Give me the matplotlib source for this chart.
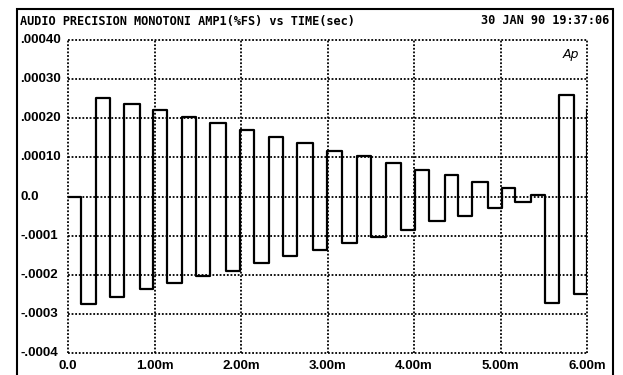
import matplotlib
matplotlib.use("Agg")
import matplotlib.pyplot as plt
from matplotlib.patches import Rectangle

# time of each level change (ms) and the level held after it (%FS)
t_edges = [0.0, 0.150, 0.324, 0.491, 0.653, 0.827, 0.983, 1.139, 1.318, 1.480,
           1.647, 1.823, 1.985, 2.150, 2.318, 2.489, 2.653, 2.832, 2.994, 3.164,
           3.341, 3.503, 3.676, 3.847, 4.012, 4.170, 4.358, 4.505, 4.676, 4.855,
           5.017, 5.168, 5.347, 5.514, 5.676, 5.850, 6.0]
levels = [0.0, -0.000276, 0.000253, -0.000258, 0.000236, -0.000237, 0.000221,
          -0.000222, 0.000204, -0.000204, 0.000188, -0.000191, 0.000170,
          -0.000171, 0.000152, -0.000153, 0.000136, -0.000138, 0.000117,
          -0.000119, 0.000104, -0.000104, 0.000085, -0.000085, 0.000068,
          -0.000063, 0.000056, -0.000051, 0.000036, -0.000030, 0.000022,
          -0.000015, 0.000003, -0.000272, 0.000259, -0.000250, 0.000220]

y_ticks = [0.0004, 0.0003, 0.0002, 0.0001, 0.0, -0.0001, -0.0002, -0.0003, -0.0004]
y_labels = [".00040", ".00030", ".00020", ".00010", "0.0", "-.0001", "-.0002", "-.0003", "-.0004"]
x_ticks = [0, 1, 2, 3, 4, 5, 6]
x_labels = ["0.0", "1.00m", "2.00m", "3.00m", "4.00m", "5.00m", "6.00m"]

title_txt = "AUDIO PRECISION MONOTONI AMP1(%FS) vs TIME(sec)"
date_txt = "30 JAN 90 19:37:06"

fig = plt.figure(figsize=(6.23, 3.75), dpi=100)
fig.patch.set_facecolor("white")
ax = fig.add_axes([68 / 623, 1 - 353 / 375, (587 - 68) / 623, (353 - 40) / 375])

dots = (0, (1, 1))
grid_kw = dict(color="black", linestyle=dots, linewidth=1.3, clip_on=False, zorder=1)
ax.set_xlim(0, 6)
ax.set_ylim(-0.0004, 0.0004)
ax.set_xticks(x_ticks)
ax.set_yticks(y_ticks)
for s in ax.spines.values():
    s.set_visible(False)
# dotted grid, the outer lines of it forming the frame
for xv in x_ticks:
    ax.axvline(xv, **grid_kw)
for yv in y_ticks:
    ax.axhline(yv, **grid_kw)

ax.plot(t_edges, levels, drawstyle="steps-post", color="black", lw=1.6, zorder=3)

ax.set_xticklabels(x_labels, fontfamily="Liberation Sans", fontweight="bold", fontsize=9.5)
ax.set_yticklabels(y_labels, fontfamily="Liberation Sans", fontweight="bold", fontsize=9.5)
ax.tick_params(axis="both", length=0)
ax.tick_params(axis="y", pad=34.5)
ax.tick_params(axis="x", pad=5)
for lab in ax.get_yticklabels():
    lab.set_horizontalalignment("left")
    lab.set_verticalalignment("center")

ax.text(0.985, 0.975, "Ap", transform=ax.transAxes, ha="right", va="top",
        fontsize=9, style="italic", family="DejaVu Sans")

# outer frame of the plotter page
fig.patches.append(Rectangle((17 / 623, -0.05), (613 - 17) / 623, 1.05 - 9 / 375,
                             transform=fig.transFigure, fill=False,
                             edgecolor="black", lw=1.5))

fig.text(20 / 623, 1 - 21 / 375, title_txt, ha="left", va="center",
         family="DejaVu Sans Mono", fontweight="bold", fontsize=8.6)
fig.text(609 / 623, 1 - 21 / 375, date_txt, ha="right", va="center",
         family="DejaVu Sans Mono", fontweight="bold", fontsize=8.6)

fig.savefig("out.png", dpi=100)
